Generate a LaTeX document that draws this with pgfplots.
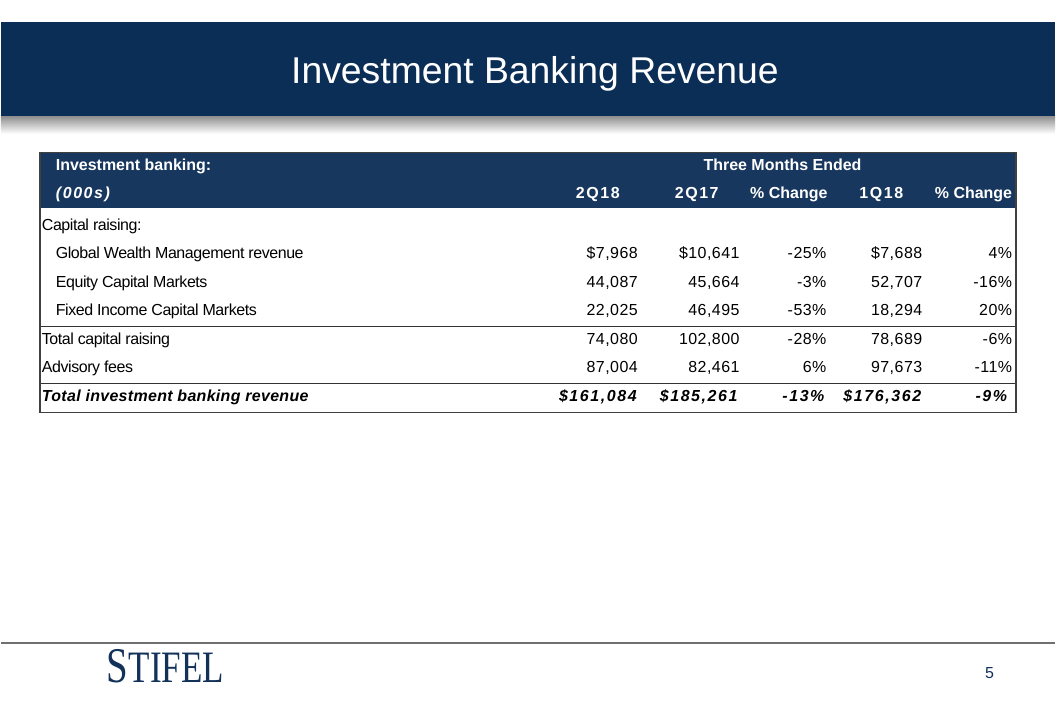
\documentclass[border=0pt]{standalone}
\usepackage{pgfplots}
\pgfplotsset{compat=1.18}
\usepackage{fontspec}
\setmainfont{Liberation Sans}
\newfontfamily\spc[LetterSpace=10]{Liberation Sans}
\newfontfamily\numf[LetterSpace=3]{Liberation Sans}
\newfontfamily\tight[LetterSpace=-2.7]{Liberation Sans}
\newfontfamily\wide[LetterSpace=2]{Liberation Sans}
\newfontfamily\logofont{Liberation Serif}
\definecolor{band}{HTML}{0B2E57}
\definecolor{hdr}{HTML}{17375E}
\definecolor{logo}{HTML}{13325A}
\definecolor{rulec}{HTML}{707070}
\newcommand\fs{\fontsize{16bp}{19bp}\selectfont}

\pgfplotsset{
  txt/.style={draw=none, mark=none, forget plot, nodes near coords,
    point meta=explicit symbolic,
    nodes near coords align={anchor=#1},
    every node near coord/.append style={inner sep=0pt, outer sep=0pt, anchor=#1}},
}

% value columns: x = right edge (px), y = baseline (px from top)
\pgfplotstableread[row sep=\\, col sep=semicolon]{
x;y;t\\
638;259;\$7,968\\
638;288;44,087\\
638;316;22,025\\
638;345;74,080\\
638;373;87,004\\
}\colA
\pgfplotstableread[row sep=\\, col sep=semicolon]{
x;y;t\\
740;259;\$10,641\\
740;288;45,664\\
740;316;46,495\\
740;345;102,800\\
740;373;82,461\\
}\colB
\pgfplotstableread[row sep=\\, col sep=semicolon]{
x;y;t\\
827;259;-25\%\\
827;288;-3\%\\
827;316;-53\%\\
827;345;-28\%\\
827;373;6\%\\
}\colC
\pgfplotstableread[row sep=\\, col sep=semicolon]{
x;y;t\\
923;259;\$7,688\\
923;288;52,707\\
923;316;18,294\\
923;345;78,689\\
923;373;97,673\\
}\colD
\pgfplotstableread[row sep=\\, col sep=semicolon]{
x;y;t\\
1013;259;4\%\\
1013;288;-16\%\\
1013;316;20\%\\
1013;345;-6\%\\
1013;373;-11\%\\
}\colE
\pgfplotstableread[row sep=\\, col sep=semicolon]{
x;y;t\\
637;402;\$161,084\\
738;402;\$185,261\\
825;402;-13\%\\
922;402;\$176,362\\
1008;402;-9\%\\
}\totals
\pgfplotstableread[row sep=\\, col sep=semicolon]{
x;y;t\\
41;231;Capital raising:\\
55;259;Global Wealth Management revenue\\
55;288;Equity Capital Markets\\
55;316;Fixed Income Capital Markets\\
41;345;Total capital raising\\
41;373;Advisory fees\\
}\rowlabels

\begin{document}
\begin{tikzpicture}
\begin{axis}[
  at={(0,0)}, anchor=south west,
  width=1056bp, height=704bp, scale only axis,
  xmin=0, xmax=1056, ymin=0, ymax=704, y dir=reverse,
  hide axis, clip=false,
]
% background and decorations
\fill[white] (axis cs:0,0) rectangle (axis cs:1056,704);
\shade[top color=black!45, bottom color=white] (axis cs:0,116) rectangle (axis cs:1056,134);
\fill[band] (axis cs:0,22) rectangle (axis cs:1056,116);
\fill[hdr] (axis cs:39,153) rectangle (axis cs:1017,208);
\draw[black!80, line width=1pt] (axis cs:39,327) -- (axis cs:1017,327);
\draw[black!80, line width=1pt] (axis cs:39,384) -- (axis cs:1017,384);
\draw[black!75, line width=1.3pt] (axis cs:39,153) rectangle (axis cs:1017,413);
\draw[rulec, line width=2pt] (axis cs:0,644) -- (axis cs:1056,644);

% title
\node[white, anchor=base, inner sep=0pt, font=\fontsize{37.4bp}{40bp}\selectfont] at (axis cs:535,84) {Investment Banking Revenue};

% header
\addplot[txt=base west, every node near coord/.append style={text=white, font=\fs\bfseries}]
  table[x=x, y=y, meta=t, row sep=\\, col sep=semicolon] {x;y;t\\ 55;171;Investment banking:\\};
\addplot[txt=base west, every node near coord/.append style={text=white, font=\fs\spc\bfseries\itshape}]
  table[x=x, y=y, meta=t, row sep=\\, col sep=semicolon] {x;y;t\\ 55;199;(000s)\\};
\addplot[txt=base, every node near coord/.append style={text=white, font=\fs\bfseries}]
  table[x=x, y=y, meta=t, row sep=\\, col sep=semicolon] {x;y;t\\ 783;171;Three Months Ended\\};
\addplot[txt=base east, every node near coord/.append style={text=white, font=\fs\spc\bfseries}]
  table[x=x, y=y, meta=t, row sep=\\, col sep=semicolon] {x;y;t\\ 620;199;2Q18\\ 719;199;2Q17\\ 904;199;1Q18\\};
\addplot[txt=base east, every node near coord/.append style={text=white, font=\fs\bfseries}]
  table[x=x, y=y, meta=t, row sep=\\, col sep=semicolon] {x;y;t\\ 828;199;\% Change\\ 1013;199;\% Change\\};

% row labels
\addplot[txt=base west, every node near coord/.append style={text=black, font=\fs\tight}]
  table[x=x, y=y, meta=t] {\rowlabels};
\addplot[txt=base west, every node near coord/.append style={text=black, font=\fs\wide\bfseries\itshape}]
  table[x=x, y=y, meta=t, row sep=\\, col sep=semicolon] {x;y;t\\ 41;402;Total investment banking revenue\\};

% values
\addplot[txt=base east, every node near coord/.append style={text=black, font=\fs\numf}] table[x=x, y=y, meta=t] {\colA};
\addplot[txt=base east, every node near coord/.append style={text=black, font=\fs\numf}] table[x=x, y=y, meta=t] {\colB};
\addplot[txt=base east, every node near coord/.append style={text=black, font=\fs\numf}] table[x=x, y=y, meta=t] {\colC};
\addplot[txt=base east, every node near coord/.append style={text=black, font=\fs\numf}] table[x=x, y=y, meta=t] {\colD};
\addplot[txt=base east, every node near coord/.append style={text=black, font=\fs\numf}] table[x=x, y=y, meta=t] {\colE};
\addplot[txt=base east, every node near coord/.append style={text=black, font=\fs\spc\bfseries\itshape}] table[x=x, y=y, meta=t] {\totals};

% footer
\node[anchor=base west, inner sep=0pt, text=logo] at (axis cs:106,684)
  {\scalebox{0.78}[1]{\logofont\fontsize{50bp}{50bp}\selectfont S\fontsize{45bp}{45bp}\selectfont TIFEL}};
\node[anchor=base east, inner sep=0pt, text=logo, font=\fontsize{16bp}{19bp}\selectfont] at (axis cs:995,680) {5};
\end{axis}
\end{tikzpicture}
\end{document}
